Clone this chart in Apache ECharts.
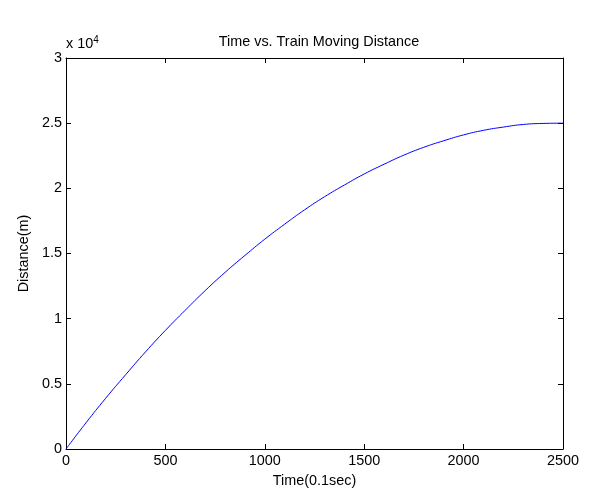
<!DOCTYPE html>
<html><head><meta charset="utf-8">
<script src="https://cdn.jsdelivr.net/npm/echarts@6/dist/echarts.min.js"></script>
<style>html,body{margin:0;padding:0;background:#fff}#c{width:601px;height:499px}</style>
</head><body><div id="c"></div>
<script>
var times = [0,100,200,300,400,500,600,700,800,900,1000,1100,1200,1300,1400,1500,1600,1700,1800,1900,2000,2100,2200,2300,2400,2500];
var distances = [0,2000,3900,5700,7450,9100,10650,12150,13550,14850,16100,17250,18350,19350,20250,21100,21850,22550,23150,23650,24100,24450,24700,24900,24980,25000];
var xTicks = [0,500,1000,1500,2000,2500];
var yTicks = [0,0.5,1,1.5,2,2.5,3];
var titleText = 'Time vs. Train Moving Distance';
var xName = 'Time(0.1sec)';
var yName = 'Distance(m)';

var font = 'Liberation Sans, Arial, sans-serif';
var fs = 14.4;
var chart = echarts.init(document.getElementById('c'), null, {renderer:'canvas'});
var pts = times.map(function(t,i){return [t, distances[i]];});
var axLine = {show:true, onZero:false, lineStyle:{color:'#000', width:1}};
var tick = {show:true, inside:true, length:5, lineStyle:{color:'#000', width:1}};
chart.setOption({
  animation:false,
  title:{text:titleText, left:314, top:30, textAlign:'center',
    textStyle:{fontFamily:font, fontSize:fs, fontWeight:'normal', color:'#000'}},
  grid:{left:66, right:38, top:58, bottom:50, containLabel:false},
  xAxis:[{type:'value', min:0, max:2500, interval:500, position:'bottom',
    axisLine:axLine, axisTick:tick,
    axisLabel:{fontFamily:font, fontSize:fs, color:'#000', margin:5,
      formatter:function(v){return String(xTicks[Math.round(v/500)]);}},
    splitLine:{show:false},
    name:xName, nameLocation:'middle', nameGap:25,
    nameTextStyle:{fontFamily:font, fontSize:fs, color:'#000'}},
   {type:'value', min:0, max:2500, interval:500, position:'top',
    axisLine:axLine, axisTick:tick,
    axisLabel:{show:false}, splitLine:{show:false}}],
  yAxis:[{type:'value', min:0, max:30000, interval:5000, position:'left',
    axisLine:axLine, axisTick:tick,
    axisLabel:{fontFamily:font, fontSize:fs, color:'#000', margin:4,
      formatter:function(v){return String(yTicks[Math.round(v/5000)]);}},
    splitLine:{show:false},
    name:yName, nameLocation:'middle', nameGap:34,
    nameTextStyle:{fontFamily:font, fontSize:fs, color:'#000'}},
   {type:'value', min:0, max:30000, interval:5000, position:'right',
    axisLine:axLine, axisTick:tick,
    axisLabel:{show:false}, splitLine:{show:false}}],
  graphic:[{type:'text', left:66, top:35,
    style:{text:'x 10{s|4}', rich:{s:{fontSize:10, verticalAlign:'top', padding:[0,0,8,0], fontFamily:font, fill:'#000'}},
      font:fs+'px '+font, fill:'#000'}}],
  series:[{type:'line', data:pts, showSymbol:false, smooth:true,
    lineStyle:{color:'#0000ff', width:1}, xAxisIndex:0, yAxisIndex:0}]
});
</script></body></html>
